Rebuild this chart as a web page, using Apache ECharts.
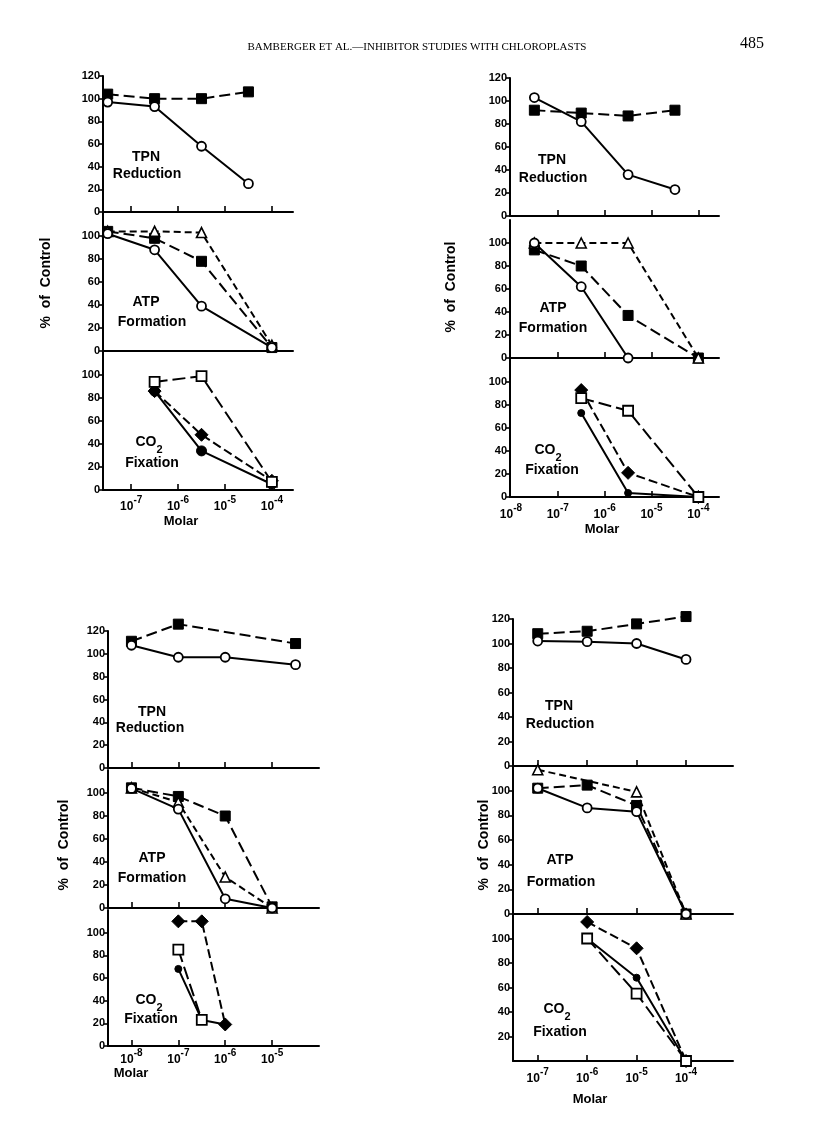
<!DOCTYPE html>
<html><head><meta charset="utf-8">
<script src="https://cdn.jsdelivr.net/npm/echarts@6/dist/echarts.min.js"></script>
<style>html,body{margin:0;padding:0;background:#fff}#chart{width:816px;height:1121px}</style>
</head><body><div id="chart"></div>
<script>
// ---------- DATA (x values are log10 of molar concentration; y = % of control) ----------
// Panel A (top-left)
const A_TPN_x = [-7.5, -6.5, -5.5, -4.5];
const A_TPN_square = [104, 100, 100, 106];
const A_TPN_circle = [97, 93, 58, 25];
const A_ATP_x = [-7.5, -6.5, -5.5, -4.0];
const A_ATP_triangle = [104, 104, 103, 5];
const A_ATP_square = [104, 98, 78, 3];
const A_ATP_circle = [102, 88, 39, 3];
const A_CO2_x = [-6.5, -5.5, -4.0];
const A_CO2_openSquare = [94, 99, 7];
const A_CO2_diamond = [86, 48, 8];
const A_CO2_dot = [86, 34, 5];

// Panel B (top-right)
const B_TPN_x = [-7.5, -6.5, -5.5, -4.5];
const B_TPN_square = [92, 89.5, 87, 92];
const B_TPN_circle = [103, 82, 36, 23];
const B_ATP_x = [-7.5, -6.5, -5.5, -4.0];
const B_ATP_triangle = [100, 100, 100, 0];
const B_ATP_square = [94, 80, 37, 0];
const B_ATP_circle_x = [-7.5, -6.5, -5.5];
const B_ATP_circle = [100, 62, 0];
const B_CO2_x = [-6.5, -5.5, -4.0];
const B_CO2_diamond = [93, 21, 0];
const B_CO2_openSquare = [86, 75, 0];
const B_CO2_dot = [73, 3.5, 0];

// Panel C (bottom-left)
const C_TPN_square_x = [-8, -7, -4.5];
const C_TPN_square = [111, 126, 109];
const C_TPN_circle_x = [-8, -7, -6, -4.5];
const C_TPN_circle = [107.5, 97, 97, 90.5];
const C_ATP_x = [-8, -7, -6, -5];
const C_ATP_square = [104.5, 97, 80, 1];
const C_ATP_triangle = [104.5, 92, 27, 0];
const C_ATP_circle = [104, 86, 8, 0];
const C_CO2_diamond_x = [-7, -6.5, -6];
const C_CO2_diamond = [110, 110, 19];
const C_CO2_openSquare_x = [-7, -6.5];
const C_CO2_openSquare = [85, 23];
const C_CO2_dot_x = [-7, -6.5, -6];
const C_CO2_dot = [68, 23, 19];

// Panel D (bottom-right)
const D_TPN_x = [-7, -6, -5, -4];
const D_TPN_square = [108, 110, 116, 122];
const D_TPN_circle = [102, 101.5, 100, 87];
const D_ATP_triangle_x = [-7, -5, -4];
const D_ATP_triangle = [117, 99, 0];
const D_ATP_x = [-7, -6, -5, -4];
const D_ATP_square = [102, 104.5, 88, 0];
const D_ATP_circle = [102, 86, 83, 0];
const D_CO2_x = [-6, -5, -4];
const D_CO2_diamond = [113.5, 92, 0];
const D_CO2_dot = [100, 68, 0];
const D_CO2_openSquare = [100, 55, 0];

// Tick labels
const Y_TICKS_TPN = [0, 20, 40, 60, 80, 100, 120];
const Y_TICKS_LOW = [0, 20, 40, 60, 80, 100];
const Y_TICKS_D_CO2 = [20, 40, 60, 80, 100];
const A_X_TICKS = [-7, -6, -5, -4];
const A_X_LABELS = [-7, -6, -5, -4];
const B_X_TICKS = [-7, -6, -5, -4];
const B_X_LABELS = [-8, -7, -6, -5, -4];
const C_X_TICKS = [-8, -7, -6, -5];
const C_X_LABELS = [-8, -7, -6, -5];
const D_X_TICKS = [-7, -6, -5, -4];
const D_X_LABELS = [-7, -6, -5, -4];

// ---------- LAYOUT ----------
const FONT = '"Liberation Sans", Arial, sans-serif';
const grids = [
  // Panel A
  {left:103, top:76,  width:190, height:136, xMin:-7.6, xMax:-3.55, yT:Y_TICKS_TPN, xT:A_X_TICKS, xL:[], m:5},
  {left:103, top:213, width:190, height:138, xMin:-7.6, xMax:-3.55, yT:Y_TICKS_LOW, xT:[], xL:[], m:5},
  {left:103, top:352, width:190, height:138, xMin:-7.6, xMax:-3.55, yT:Y_TICKS_LOW, xT:A_X_TICKS, xL:A_X_LABELS, m:5},
  // Panel B
  {left:510, top:78,  width:209, height:138, xMin:-8.02, xMax:-3.56, yT:Y_TICKS_TPN, xT:B_X_TICKS, xL:[], m:5},
  {left:510, top:220, width:209, height:138, xMin:-8.02, xMax:-3.56, yT:Y_TICKS_LOW, xT:[-7,-6,-5], xL:[], m:5},
  {left:510, top:359, width:209, height:138, xMin:-8.02, xMax:-3.56, yT:Y_TICKS_LOW, xT:B_X_TICKS, xL:B_X_LABELS, m:6},
  // Panel C
  {left:108, top:631, width:211, height:137, xMin:-8.5, xMax:-4.0, yT:Y_TICKS_TPN, xT:C_X_TICKS, xL:[], m:3},
  {left:108, top:770, width:211, height:138, xMin:-8.5, xMax:-4.0, yT:Y_TICKS_LOW, xT:C_X_TICKS, xL:[], m:3},
  {left:108, top:910, width:211, height:136, xMin:-8.5, xMax:-4.0, yT:Y_TICKS_LOW, xT:C_X_TICKS, xL:C_X_LABELS, m:2},
  // Panel D
  {left:513, top:619, width:220, height:147, xMin:-7.5, xMax:-3.05, yT:Y_TICKS_TPN, xT:D_X_TICKS, xL:[], m:5},
  {left:513, top:766, width:220, height:148, xMin:-7.5, xMax:-3.05, yT:Y_TICKS_LOW, xT:D_X_TICKS, xL:[], m:5},
  {left:513, top:914, width:220, height:147, xMin:-7.5, xMax:-3.05, yT:Y_TICKS_D_CO2, xT:D_X_TICKS, xL:D_X_LABELS, m:6}
];

const STY = {
  circle:     {symbol:'circle',   size:9,  fill:'#fff', dash:'solid', bw:1.8},
  square:     {symbol:'rect',     size:10, fill:'#000', dash:[11,5],  bw:1},
  triangle:   {symbol:'triangle', size:10, fill:'#fff', dash:[7,4],   bw:1.6},
  openSquare: {symbol:'rect',     size:10, fill:'#fff', dash:[13,5],  bw:1.8},
  diamond:    {symbol:'diamond',  size:13, fill:'#000', dash:[9,4],   bw:1},
  dot:        {symbol:'circle',   size:7,  fill:'#000', dash:'solid', bw:1},
  bigDot:     {symbol:'circle',   size:10, fill:'#000', dash:'solid', bw:1}
};
function pairs(xs, ys){ return xs.map((x, i) => [x, ys[i]]); }
function mk(idx, kind, xs, ys){
  const s = STY[kind];
  return {
    type:'line', xAxisIndex:idx, yAxisIndex:idx, data:pairs(xs, ys),
    symbol:s.symbol, symbolSize:s.size, showSymbol:true, clip:false, animation:false,
    lineStyle:{color:'#000', width:2, type:s.dash},
    itemStyle:{color:s.fill, borderColor:'#000', borderWidth:s.bw},
    emphasis:{disabled:true}, z: (s.fill === '#fff' ? 3 : 2)
  };
}

const series = [
  mk(0,'square',A_TPN_x,A_TPN_square), mk(0,'circle',A_TPN_x,A_TPN_circle),
  mk(1,'triangle',A_ATP_x,A_ATP_triangle), mk(1,'square',A_ATP_x,A_ATP_square), mk(1,'circle',A_ATP_x,A_ATP_circle),
  mk(2,'openSquare',A_CO2_x,A_CO2_openSquare), mk(2,'diamond',A_CO2_x,A_CO2_diamond), mk(2,'bigDot',A_CO2_x,A_CO2_dot),

  mk(3,'square',B_TPN_x,B_TPN_square), mk(3,'circle',B_TPN_x,B_TPN_circle),
  mk(4,'triangle',B_ATP_x,B_ATP_triangle), mk(4,'square',B_ATP_x,B_ATP_square), mk(4,'circle',B_ATP_circle_x,B_ATP_circle),
  mk(5,'dot',B_CO2_x,B_CO2_dot), mk(5,'openSquare',B_CO2_x,B_CO2_openSquare), mk(5,'diamond',B_CO2_x,B_CO2_diamond),

  mk(6,'square',C_TPN_square_x,C_TPN_square), mk(6,'circle',C_TPN_circle_x,C_TPN_circle),
  mk(7,'triangle',C_ATP_x,C_ATP_triangle), mk(7,'circle',C_ATP_x,C_ATP_circle), mk(7,'square',C_ATP_x,C_ATP_square),
  mk(8,'dot',C_CO2_dot_x,C_CO2_dot), mk(8,'openSquare',C_CO2_openSquare_x,C_CO2_openSquare), mk(8,'diamond',C_CO2_diamond_x,C_CO2_diamond),

  mk(9,'square',D_TPN_x,D_TPN_square), mk(9,'circle',D_TPN_x,D_TPN_circle),
  mk(10,'triangle',D_ATP_triangle_x,D_ATP_triangle), mk(10,'circle',D_ATP_x,D_ATP_circle), mk(10,'square',D_ATP_x,D_ATP_square),
  mk(11,'dot',D_CO2_x,D_CO2_dot), mk(11,'openSquare',D_CO2_x,D_CO2_openSquare), mk(11,'diamond',D_CO2_x,D_CO2_diamond)
];

const xAxes = grids.map((g, i) => ({
  gridIndex:i, type:'value', min:g.xMin, max:g.xMax,
  axisLine:{show:true, onZero:false, lineStyle:{color:'#000', width:2}},
  axisTick:{show:g.xT.length > 0, inside:true, length:6, customValues:g.xT.length ? g.xT : undefined,
            lineStyle:{color:'#000', width:1.6}},
  axisLabel:{show:g.xL.length > 0, customValues:g.xL.length ? g.xL : undefined, margin:g.m,
    formatter: v => '{b|10}{s|' + v + '}',
    rich:{
      b:{fontFamily:FONT, fontSize:12, fontWeight:'bold', color:'#000', verticalAlign:'bottom', lineHeight:18},
      s:{fontFamily:FONT, fontSize:10, fontWeight:'bold', color:'#000', verticalAlign:'top', lineHeight:18}
    }},
  splitLine:{show:false}
}));
const yAxes = grids.map((g, i) => ({
  gridIndex:i, type:'value', min:0, max:120,
  axisLine:{show:true, lineStyle:{color:'#000', width:2}},
  axisTick:{show:true, inside:false, length:4, customValues:g.yT, lineStyle:{color:'#000', width:1.6}},
  axisLabel:{customValues:g.yT, fontFamily:FONT, fontSize:11, fontWeight:'bold', color:'#000', margin:3},
  splitLine:{show:false}
}));

function label(x, y, txt, size){
  return {type:'text', x:x, y:y, silent:true, z:10,
    style:{text:txt, fill:'#000', font:'bold ' + (size||14) + 'px ' + FONT,
           align:'center', verticalAlign:'middle', textAlign:'center', textVerticalAlign:'middle'}};
}
function co2(x, y){
  return {type:'text', x:x, y:y, silent:true, z:10,
    style:{text:'{n|CO}{sub|2}', fill:'#000', align:'center', verticalAlign:'middle',
      textAlign:'center', textVerticalAlign:'middle',
      rich:{ n:{fontFamily:FONT, fontSize:14, fontWeight:'bold', color:'#000', verticalAlign:'top', lineHeight:20},
             sub:{fontFamily:FONT, fontSize:11, fontWeight:'bold', color:'#000', verticalAlign:'bottom', lineHeight:20} }}};
}
function vlabel(x, y){
  return {type:'text', x:x, y:y, rotation:Math.PI/2, silent:true, z:10,
    style:{text:'%  of  Control', fill:'#000', font:'bold 14px ' + FONT,
           align:'center', verticalAlign:'middle', textAlign:'center', textVerticalAlign:'middle'}};
}

const graphics = [
  {type:'text', x:417, y:47, silent:true,
   style:{text:'BAMBERGER ET AL.\u2014INHIBITOR STUDIES WITH CHLOROPLASTS', fill:'#000',
          font:'11px "Liberation Serif", serif', align:'center', verticalAlign:'middle',
          textAlign:'center', textVerticalAlign:'middle'}},
  {type:'text', x:752, y:44, silent:true,
   style:{text:'485', fill:'#000', font:'16px "Liberation Serif", serif', align:'center', verticalAlign:'middle',
          textAlign:'center', textVerticalAlign:'middle'}},
  // Panel A
  label(146, 157, 'TPN'), label(147, 174, 'Reduction'),
  label(146, 302, 'ATP'), label(152, 322, 'Formation'),
  co2(149, 445), label(152, 463, 'Fixation'),
  vlabel(46, 283), label(181, 521, 'Molar', 13),
  // Panel B
  label(552, 160, 'TPN'), label(553, 178, 'Reduction'),
  label(553, 308, 'ATP'), label(553, 328, 'Formation'),
  co2(548, 453), label(552, 470, 'Fixation'),
  vlabel(451, 287), label(602, 529, 'Molar', 13),
  // Panel C
  label(152, 712, 'TPN'), label(150, 728, 'Reduction'),
  label(152, 858, 'ATP'), label(152, 878, 'Formation'),
  co2(149, 1003), label(151, 1019, 'Fixation'),
  vlabel(64, 845), label(131, 1073, 'Molar', 13),
  // Panel D
  label(559, 706, 'TPN'), label(560, 724, 'Reduction'),
  label(560, 860, 'ATP'), label(561, 882, 'Formation'),
  co2(557, 1012), label(560, 1032, 'Fixation'),
  vlabel(484, 845), label(590, 1099, 'Molar', 13)
];

const chart = echarts.init(document.getElementById('chart'), null, {renderer:'canvas'});
chart.setOption({
  backgroundColor:'#fff',
  animation:false,
  grid: grids.map(g => ({left:g.left, top:g.top, width:g.width, height:g.height, containLabel:false})),
  xAxis: xAxes,
  yAxis: yAxes,
  series: series,
  graphic: graphics
});
</script>
</body></html>
